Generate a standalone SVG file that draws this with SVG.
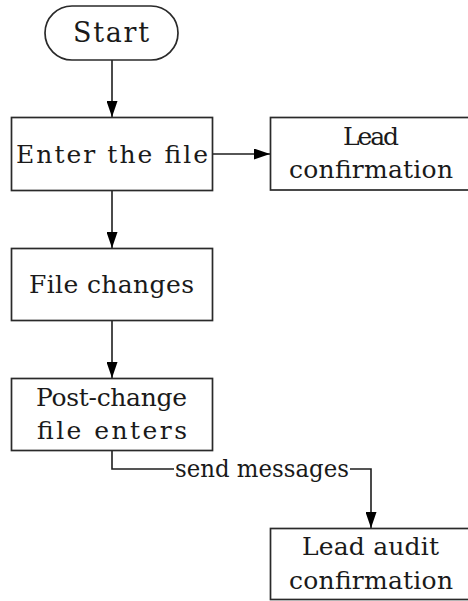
<svg xmlns="http://www.w3.org/2000/svg" width="468" height="601" viewBox="0 0 468 601">
<style>
.box{fill:#fff;stroke:#2a2a2a;stroke-width:1.7}
.t{font-family:"DejaVu Serif","Liberation Serif",serif;font-size:25px;fill:#1a1a1a}
.c{fill:none;stroke:#1e1e1e;stroke-width:1.6}
</style>
<defs>
<marker id="ahv" viewBox="0 0 16 11" refX="16" refY="5.5" markerWidth="16" markerHeight="11" markerUnits="userSpaceOnUse" orient="auto">
<path d="M0,0 L16,5.5 L0,11 Z" fill="#000"/>
</marker>
</defs>
<rect width="468" height="601" fill="#fff"/>
<g id="connectors">
<line class="c" x1="112" y1="60" x2="112" y2="117" marker-end="url(#ahv)"/>
<line class="c" x1="212" y1="154" x2="270" y2="154" marker-end="url(#ahv)"/>
<line class="c" x1="112" y1="190" x2="112" y2="248" marker-end="url(#ahv)"/>
<line class="c" x1="112" y1="320" x2="112" y2="378" marker-end="url(#ahv)"/>
<polyline class="c" points="112,451 112,469 174,469"/>
<polyline class="c" points="350,469 371,469 371,528" marker-end="url(#ahv)"/>
<text class="t" x="175" y="477" style="font-size:24px" textLength="174" lengthAdjust="spacingAndGlyphs">send messages</text>
</g>
<g id="start">
<rect class="box" x="45" y="6" width="133" height="54" rx="27" ry="27"/>
<text class="t" x="73" y="42" style="font-size:27px" textLength="76" lengthAdjust="spacing">Start</text>
</g>
<g id="enter">
<rect class="box" x="11.5" y="117.5" width="201" height="73"/>
<text class="t" x="16" y="163" textLength="192" lengthAdjust="spacing">Enter the file</text>
</g>
<g id="lead">
<rect class="box" x="270.5" y="117.5" width="200" height="72.5"/>
<text class="t" x="343" y="145" textLength="56" lengthAdjust="spacing">Lead</text>
<text class="t" x="289" y="178" textLength="164" lengthAdjust="spacing">confirmation</text>
</g>
<g id="changes">
<rect class="box" x="11.5" y="248.5" width="201" height="72"/>
<text class="t" x="29" y="293" textLength="165" lengthAdjust="spacing">File changes</text>
</g>
<g id="post">
<rect class="box" x="11.5" y="378.5" width="201" height="72"/>
<text class="t" x="36" y="406" textLength="151" lengthAdjust="spacing">Post-change</text>
<text class="t" x="37" y="439" textLength="150" lengthAdjust="spacing">file enters</text>
</g>
<g id="audit">
<rect class="box" x="270.5" y="528.5" width="200" height="71"/>
<text class="t" x="302" y="555" textLength="137" lengthAdjust="spacing">Lead audit</text>
<text class="t" x="289" y="589" textLength="164" lengthAdjust="spacing">confirmation</text>
</g>
</svg>
